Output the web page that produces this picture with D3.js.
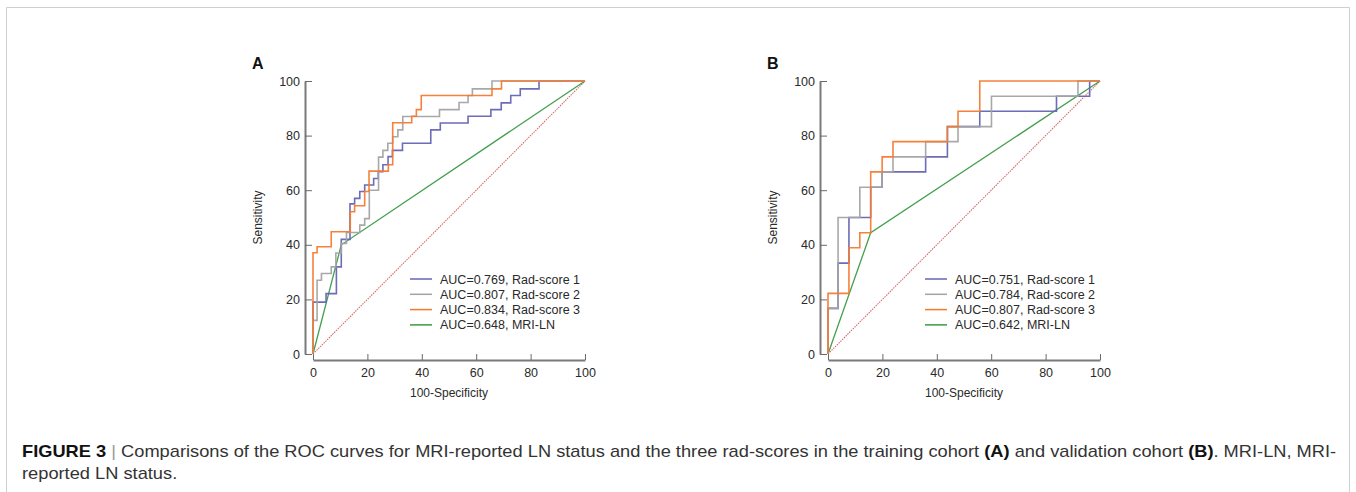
<!DOCTYPE html>
<html>
<head>
<meta charset="utf-8">
<script src="https://cdn.jsdelivr.net/npm/d3@7"></script>
<style>
  body { margin: 0; background: #fff; }
  svg text { font-family: "Liberation Sans", Arial, sans-serif; }
  svg .caption text { font-family: "Liberation Sans Narrow", "Liberation Sans", Arial, sans-serif; }
</style>
</head>
<body>
<div id="chart"></div>
<script>
// Nombres de las series y colores
const seriesNames = ["Rad-score 1", "Rad-score 2", "Rad-score 3", "MRI-LN"];
const seriesColors = ["#6464b4", "#a3a3a3", "#f47a32", "#3a9a44"];

// AUC de cada panel
const aucA = ["0.769", "0.807", "0.834", "0.648"];
const aucB = ["0.751", "0.784", "0.807", "0.642"];

// Ticks de los ejes
const majorTicks = [0, 20, 40, 60, 80, 100];
const minorTicks = [5, 10, 15, 25, 30, 35, 45, 50, 55, 65, 70, 75, 85, 90, 95];

// Curvas ROC, panel A (cohorte de entrenamiento) [100-especificidad, sensibilidad]
const radScore1A = [[0,0],[0,19],[4.8,19],[4.8,22.1],[8.6,22.1],[8.6,31.9],[10.4,31.9],[10.4,42],[13.6,42],[13.6,55],[15.3,55],[15.3,57],[17.2,57],[17.2,59.5],[19,59.5],[19,61.9],[22.3,61.9],[22.3,64.3],[24,64.3],[24,66.8],[25.7,66.8],[25.7,69.3],[27.6,69.3],[27.6,72.3],[29.2,72.3],[29.2,74.6],[32.9,74.6],[32.9,77.2],[43.3,77.2],[43.3,82.1],[46.8,82.1],[46.8,84.6],[57,84.6],[57,87.1],[65.4,87.1],[65.4,89.5],[69.2,89.5],[69.2,92],[72.7,92],[72.7,94.7],[76.2,94.7],[76.2,97.1],[83.1,97.1],[83.1,100],[100,100]];
const radScore2A = [[0,0],[0,12.3],[1.5,12.3],[1.5,27],[3.1,27],[3.1,29.5],[6.7,29.5],[6.7,31.9],[8.4,31.9],[8.4,37],[10.4,37],[10.4,40.5],[12.3,40.5],[12.3,44.5],[17.2,44.5],[17.2,47.2],[19,47.2],[19,49.6],[20.7,49.6],[20.7,60],[24.1,60],[24.1,72.1],[25.7,72.1],[25.7,74.6],[27.5,74.6],[27.5,77.2],[29.3,77.2],[29.3,79.6],[31.2,79.6],[31.2,82.1],[33,82.1],[33,87],[46.5,87],[46.5,89.5],[53.7,89.5],[53.7,92.1],[57,92.1],[57,94.7],[58.6,94.7],[58.6,97.1],[65.8,97.1],[65.8,100],[100,100]];
const radScore3A = [[0,0],[0,37.1],[1.5,37.1],[1.5,39.3],[6.7,39.3],[6.7,44.8],[13.7,44.8],[13.7,52.1],[15.3,52.1],[15.3,54.3],[19,54.3],[19,59.5],[20.6,59.5],[20.6,67],[27.7,67],[27.7,69.3],[29.3,69.3],[29.3,84.7],[36.3,84.7],[36.3,87.1],[38,87.1],[38,89.5],[39.8,89.5],[39.8,94.7],[65.8,94.7],[65.8,97.1],[69.3,97.1],[69.3,100],[100,100]];
const mriLNA = [[0,0],[10.4,40],[100,100]];

// Curvas ROC, panel B (cohorte de validación)
const radScore1B = [[0,0],[0,16.7],[3.7,16.7],[3.7,33.3],[7.7,33.3],[7.7,50],[15.7,50],[15.7,61.1],[19.9,61.1],[19.9,66.7],[35.9,66.7],[35.9,72.2],[43.9,72.2],[43.9,83.3],[55.8,83.3],[55.8,88.9],[84,88.9],[84,94.4],[96.2,94.4],[96.2,100],[100,100]];
const radScore2B = [[0,0],[0,16.7],[3.7,16.7],[3.7,50],[11.7,50],[11.7,61.1],[19.9,61.1],[19.9,66.7],[23.9,66.7],[23.9,72.2],[35.9,72.2],[35.9,77.8],[47.8,77.8],[47.8,83.3],[60.1,83.3],[60.1,94.4],[91.9,94.4],[91.9,100],[100,100]];
const radScore3B = [[0,0],[0,22.2],[7.7,22.2],[7.7,38.9],[11.7,38.9],[11.7,44.4],[15.7,44.4],[15.7,66.7],[19.9,66.7],[19.9,72.2],[23.9,72.2],[23.9,77.8],[43.9,77.8],[43.9,83.3],[47.8,83.3],[47.8,88.9],[55.8,88.9],[55.8,100],[100,100]];
const mriLNB = [[0,0],[15.7,44.4],[100,100]];

// Línea de referencia
const diagonal = [[0,0],[100,100]];

const W = 1356, H = 492;
const svg = d3.select("#chart").append("svg").attr("width", W).attr("height", H);

// Marco de la figura
svg.append("path")
    .attr("d", "M6.5,500 V7.5 H1349.5 V500")
    .attr("fill", "none")
    .attr("stroke", "#cfcfcf");

function dibujarPanel(cfg) {
    const x = d3.scaleLinear().domain([0, 100]).range([cfg.left, cfg.left + 272]);
    const y = d3.scaleLinear().domain([0, 100]).range([354, 81]);
    const g = svg.append("g");

    // Eje Y (linea desplazada, ticks hacia dentro)
    const yAxisX = cfg.left - 8;
    const gy = g.append("g").attr("transform", `translate(${yAxisX},0)`);
    gy.call(d3.axisLeft(y).tickValues(minorTicks).tickFormat("").tickSizeInner(-4).tickSizeOuter(0));
    gy.call(d3.axisLeft(y).tickValues(majorTicks).tickSizeInner(-7).tickSizeOuter(0).tickPadding(5));

    // Eje X
    const gx = g.append("g").attr("transform", "translate(0,360)");
    gx.call(d3.axisBottom(x).tickValues(minorTicks).tickFormat("").tickSizeInner(-3).tickSizeOuter(0));
    gx.call(d3.axisBottom(x).tickValues(majorTicks).tickSizeInner(-6).tickSizeOuter(0).tickPadding(8));

    g.selectAll(".domain").attr("stroke", "#7a7a7a").attr("stroke-width", 2);
    g.selectAll(".tick line").attr("stroke", "#6a6a6a").attr("stroke-width", 1);
    g.selectAll(".tick text").attr("font-size", 12.5).attr("fill", "#2a2a2a");

    // Títulos de ejes
    g.append("text")
        .attr("x", x(50)).attr("y", 397)
        .attr("text-anchor", "middle").attr("font-size", 12).attr("fill", "#2a2a2a")
        .text("100-Specificity");
    g.append("text")
        .attr("transform", `translate(${cfg.left - 51},${y(50)}) rotate(-90)`)
        .attr("text-anchor", "middle").attr("font-size", 12).attr("fill", "#2a2a2a")
        .text("Sensitivity");

    // Letra del panel
    g.append("text")
        .attr("x", cfg.left - 61).attr("y", 69)
        .attr("font-size", 16).attr("font-weight", "bold").attr("fill", "#111")
        .text(cfg.label);

    const line = d3.line().x(d => x(d[0])).y(d => y(d[1]));

    // Diagonal de referencia
    g.append("path")
        .attr("d", line(diagonal))
        .attr("fill", "none")
        .attr("stroke", "#d46a6a")
        .attr("stroke-width", 1.1)
        .attr("stroke-dasharray", "1.5,1");

    // Curvas
    const orden = [3, 0, 1, 2];
    orden.forEach(i => {
        g.append("path")
            .attr("d", line(cfg.series[i]))
            .attr("fill", "none")
            .attr("stroke", seriesColors[i])
            .attr("stroke-width", i === 3 ? 1.3 : 1.6)
            .attr("stroke-opacity", 0.95);
    });

    // Leyenda
    const lx = cfg.left + 97;
    seriesNames.forEach((nombre, i) => {
        const ly = 279 + i * 15.3;
        g.append("line")
            .attr("x1", lx).attr("x2", lx + 22)
            .attr("y1", ly).attr("y2", ly)
            .attr("stroke", seriesColors[i]).attr("stroke-width", 1.5);
        g.append("text")
            .attr("x", lx + 30).attr("y", ly + 4.5)
            .attr("font-size", 12.5).attr("fill", "#2a2a2a")
            .text(`AUC=${cfg.auc[i]}, ${nombre}`);
    });
}

dibujarPanel({label: "A", left: 313, auc: aucA, series: [radScore1A, radScore2A, radScore3A, mriLNA]});
dibujarPanel({label: "B", left: 828, auc: aucB, series: [radScore1B, radScore2B, radScore3B, mriLNB]});

// Pie de figura
const cap = svg.append("g").attr("class", "caption").attr("font-size", 16).attr("fill", "#333");
const l1 = cap.append("text").attr("x", 0).attr("y", 0);
l1.append("tspan").attr("font-weight", "bold").attr("fill", "#111").text("FIGURE 3");
l1.append("tspan").attr("fill", "#999").text(" | ");
l1.append("tspan").text("Comparisons of the ROC curves for MRI-reported LN status and the three rad-scores in the training cohort ");
l1.append("tspan").attr("font-weight", "bold").attr("fill", "#111").text("(A)");
l1.append("tspan").text(" and validation cohort ");
l1.append("tspan").attr("font-weight", "bold").attr("fill", "#111").text("(B)");
l1.append("tspan").text(". MRI-LN, MRI-");
const l2 = cap.append("text").attr("x", 0).attr("y", 22).text("reported LN status.");

// Se ajusta el ancho del texto al de la figura original
const ancho = l1.node().getComputedTextLength();
const k = 1315 / ancho;
cap.attr("transform", `translate(22,457) scale(${k},1)`);
</script>
</body>
</html>
